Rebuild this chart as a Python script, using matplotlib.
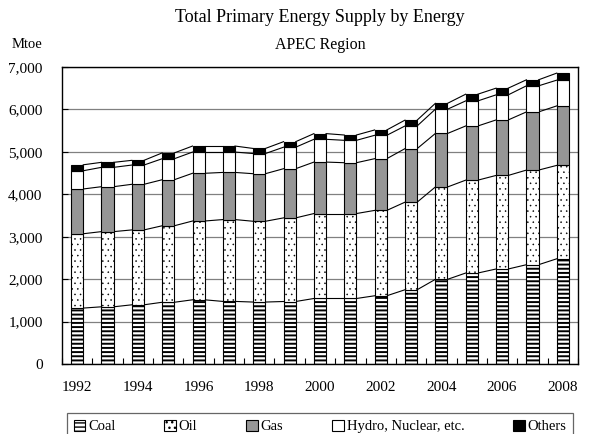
import matplotlib
matplotlib.use("Agg")
import matplotlib.pyplot as plt
import numpy as np

# values (Mtoe)
years = list(range(1992, 2009))
coal = [1318, 1348, 1395, 1455, 1513, 1475, 1460, 1473, 1544, 1544, 1608, 1750, 1995, 2144, 2239, 2340, 2480]
oil = [1752, 1772, 1765, 1803, 1857, 1929, 1904, 1971, 2002, 2002, 2012, 2064, 2177, 2189, 2205, 2230, 2201]
gas = [1055, 1059, 1075, 1085, 1125, 1111, 1121, 1159, 1213, 1198, 1219, 1262, 1261, 1277, 1308, 1371, 1402]
hydro = [430, 456, 454, 495, 500, 480, 475, 507, 537, 528, 551, 534, 572, 591, 591, 615, 607]
others = [140, 118, 111, 137, 142, 142, 120, 130, 134, 125, 126, 138, 138, 158, 158, 142, 166]
labels = ["Coal", "Oil", "Gas", "Hydro, Nuclear, etc.", "Others"]
yticks = [0, 1000, 2000, 3000, 4000, 5000, 6000, 7000]

plt.rcParams['font.family'] = ['Liberation Serif', 'DejaVu Serif']
plt.rcParams['hatch.color'] = 'black'

fig = plt.figure(figsize=(6, 4.34), dpi=100)
ax = fig.add_axes([62/600, 1 - 364/434, 516/600, 297/434])

x = np.arange(len(years))
w = 0.4
styles = [('white', '----', 1.4),
          ('white', '...', 0.35),
          ('#969696', None, 1.0),
          ('white', None, 1.0),
          ('black', None, 1.0)]

bottom = np.zeros(len(years))
for vals, name, (fc, hatch, hlw) in zip([coal, oil, gas, hydro, others], labels, styles):
    vals = np.array(vals, dtype=float)
    with plt.rc_context({'hatch.linewidth': hlw}):
        bars = ax.bar(x, vals, w, bottom=bottom, color=fc, edgecolor='black',
                      linewidth=0.8, hatch=hatch, label=name, zorder=3)
    for b in bars:
        if hasattr(b, 'set_hatch_linewidth'):
            b.set_hatch_linewidth(hlw)
    top = bottom + vals
    # series lines between the bars
    for i in range(len(x) - 1):
        ax.plot([x[i] + w/2, x[i+1] - w/2], [top[i], top[i+1]],
                color='black', lw=0.8, zorder=2)
    bottom = top

ax.set_xlim(-0.5, len(years) - 0.5)
ax.set_ylim(0, 7000)
ax.set_yticks(yticks)
ax.set_yticklabels([f"{v:,}" for v in yticks])
ax.set_xticks(x[::2])
ax.set_xticklabels([str(y) for y in years[::2]])
ax.set_xticks(np.arange(-0.5, len(years), 1), minor=True)
ax.tick_params(axis='x', which='major', length=0, pad=12, labelsize=11)
ax.tick_params(axis='x', which='minor', direction='in', length=4, width=0.8)
ax.tick_params(axis='y', direction='in', length=4, pad=14, labelsize=11)
ax.yaxis.grid(True, color='#808080', lw=0.9)
ax.set_axisbelow(True)
for s in ax.spines.values():
    s.set_linewidth(1.0)
    s.set_color('black')

fig.text(320/600, 1 - 18/434, "Total Primary Energy Supply by Energy",
         ha='center', va='center', fontsize=13)
fig.text(320/600, 1 - 45/434, "APEC Region", ha='center', va='center', fontsize=11.5)
fig.text(27/600, 1 - 45/434, "Mtoe", ha='center', va='center', fontsize=10.5)

leg = fig.legend(loc='upper left', bbox_to_anchor=(67/600, 0, 506/600, 1 - 413/434),
                 mode='expand', ncol=5, fontsize=10.5, frameon=True, fancybox=False,
                 borderaxespad=0, handlelength=0.8, handleheight=0.8,
                 handletextpad=0.2, borderpad=0.45)
leg.get_frame().set_edgecolor('#404040')
leg.get_frame().set_linewidth(0.9)

fig.savefig("out.png", dpi=100)
